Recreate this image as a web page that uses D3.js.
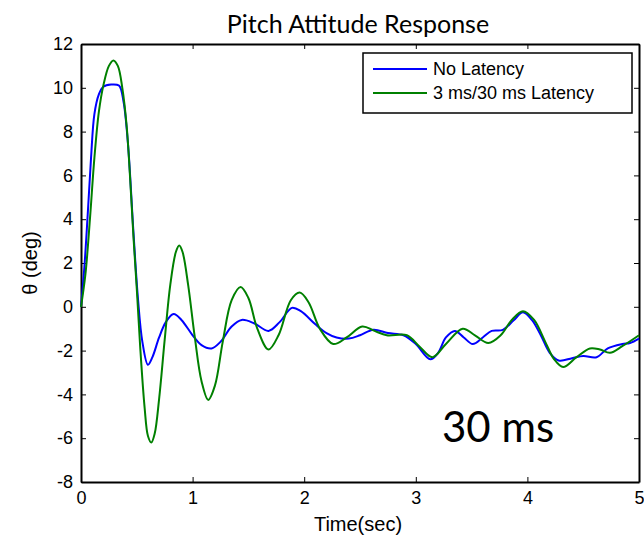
<!DOCTYPE html>
<html lang="en">
	<head>
		<meta charset="utf-8">
		<title>D3: Pitch Attitude Response</title>
		<script type="text/javascript" src="https://cdn.jsdelivr.net/npm/d3@7"></script>
		<style type="text/css">
		body { margin: 0; background: #fff; }
		.axis text { font-family: "Liberation Sans", Arial, sans-serif; font-size: 18px; fill: #000; }
		.axis path, .axis line { stroke: #000; }
		</style>
	</head>
	<body>
		<script type="text/javascript">

		//Width and height
		var w = 644;
		var h = 542;
		var margin = {top: 44, right: 5, bottom: 60, left: 81};

		var xTicks = [0, 1, 2, 3, 4, 5];
		var yTicks = [-8, -6, -4, -2, 0, 2, 4, 6, 8, 10, 12];
		var seriesNames = ["No Latency", "3 ms/30 ms Latency"];
		var seriesColors = ["#0000ff", "#008000"];

		//No Latency  [time, theta]
		var noLatency = [
			[0, 0], [0.03, 1.8], [0.06, 4.2], [0.09, 6.8], [0.12, 8.8], [0.16, 9.7], [0.2, 10.05],
			[0.27, 10.15], [0.34, 10.1], [0.38, 9.4], [0.42, 7.5], [0.47, 3.4], [0.51, 0.4],
			[0.55, -1.6], [0.6, -2.65], [0.64, -2.3], [0.7, -1.4], [0.76, -0.7], [0.83, -0.33],
			[0.9, -0.6], [1.0, -1.3], [1.08, -1.75], [1.17, -1.9], [1.25, -1.6], [1.35, -0.9],
			[1.44, -0.6], [1.55, -0.75], [1.68, -1.1], [1.78, -0.7], [1.89, -0.05], [1.97, -0.2],
			[2.1, -0.8], [2.2, -1.2], [2.29, -1.4], [2.4, -1.45], [2.5, -1.3], [2.62, -1.05],
			[2.75, -1.2], [2.89, -1.3], [3.0, -1.7], [3.13, -2.4], [3.2, -2.1], [3.27, -1.4],
			[3.35, -1.1], [3.43, -1.4], [3.51, -1.7], [3.6, -1.4], [3.68, -1.1], [3.78, -1.05],
			[3.88, -0.6], [3.96, -0.25], [4.04, -0.6], [4.12, -1.3], [4.2, -2.1], [4.28, -2.45],
			[4.4, -2.35], [4.5, -2.25], [4.62, -2.3], [4.72, -1.9], [4.85, -1.7], [4.92, -1.65],
			[5.0, -1.45]
		];

		//3 ms/30 ms Latency  [time, theta]
		var withLatency = [
			[0, 0], [0.04, 1.5], [0.08, 4.0], [0.12, 6.8], [0.16, 8.9], [0.2, 10.1], [0.25, 11.0],
			[0.29, 11.25], [0.33, 11.0], [0.37, 10.0], [0.41, 8.2], [0.45, 5.0], [0.47, 3.2],
			[0.5, 0.8], [0.53, -1.8], [0.57, -4.6], [0.6, -5.9], [0.63, -6.2], [0.66, -5.8],
			[0.7, -4.2], [0.75, -1.5], [0.8, 1.0], [0.85, 2.5], [0.88, 2.8], [0.91, 2.5],
			[0.96, 1.0], [1.02, -1.4], [1.08, -3.4], [1.14, -4.25], [1.2, -3.6], [1.27, -1.6],
			[1.35, 0.3], [1.43, 0.9], [1.5, 0.4], [1.58, -1.0], [1.68, -1.95], [1.77, -1.3],
			[1.88, 0.3], [1.96, 0.65], [2.04, 0.2], [2.14, -1.0], [2.26, -1.7], [2.38, -1.4],
			[2.52, -0.9], [2.63, -1.1], [2.74, -1.3], [2.92, -1.3], [3.03, -1.8], [3.15, -2.3],
			[3.27, -1.7], [3.42, -1.0], [3.53, -1.3], [3.65, -1.65], [3.76, -1.3], [3.86, -0.6],
			[3.96, -0.2], [4.06, -0.6], [4.16, -1.6], [4.24, -2.4], [4.32, -2.75], [4.44, -2.3],
			[4.56, -1.9], [4.65, -1.95], [4.74, -2.1], [4.85, -1.8], [5.0, -1.3]
		];

		var series = [noLatency, withLatency];

		var iw = w - margin.left - margin.right;
		var ih = h - margin.top - margin.bottom;

		var svg = d3.select("body")
					.append("svg")
					.attr("width", w)
					.attr("height", h);

		var g = svg.append("g")
					.attr("transform", "translate(" + margin.left + "," + margin.top + ")");

		var x = d3.scaleLinear().domain([0, 5]).range([0, iw]);
		var y = d3.scaleLinear().domain([-8, 12]).range([ih, 0]);

		//plain hyphen minus like the original
		var fmt = function(d) { return String(d); };

		//axes, ticks pointing inward (box on)
		g.append("g").attr("class", "axis")
			.attr("transform", "translate(0," + ih + ")")
			.call(d3.axisBottom(x).tickValues(xTicks).tickFormat(fmt).tickSizeInner(-5).tickSizeOuter(0).tickPadding(9));
		g.append("g").attr("class", "axis")
			.call(d3.axisLeft(y).tickValues(yTicks).tickFormat(fmt).tickSizeInner(-5).tickSizeOuter(0).tickPadding(8));
		g.append("g").attr("class", "axis")
			.call(d3.axisTop(x).tickValues(xTicks).tickSizeInner(-5).tickSizeOuter(0).tickFormat(""));
		g.append("g").attr("class", "axis")
			.attr("transform", "translate(" + iw + ",0)")
			.call(d3.axisRight(y).tickValues(yTicks).tickSizeInner(-5).tickSizeOuter(0).tickFormat(""));
		g.selectAll(".axis path").style("stroke-width", 2);

		var line = d3.line()
			.x(function(d) { return x(d[0]); })
			.y(function(d) { return y(d[1]); })
			.curve(d3.curveCatmullRom);

		g.selectAll(".series")
			.data(series)
			.enter()
			.append("path")
			.attr("class", "series")
			.attr("d", line)
			.style("fill", "none")
			.style("stroke", function(d, i) { return seriesColors[i]; })
			.style("stroke-width", 2);

		//title and labels
		svg.append("text")
			.attr("x", 358).attr("y", 33)
			.attr("text-anchor", "middle")
			.style("font-family", "Lato, sans-serif")
			.style("font-size", "25px")
			.text("Pitch Attitude Response");

		svg.append("text")
			.attr("x", 358).attr("y", 531)
			.attr("text-anchor", "middle")
			.style("font-family", "Liberation Sans, Arial, sans-serif")
			.style("font-size", "20px")
			.text("Time(sec)");

		svg.append("text")
			.attr("transform", "translate(37,263) rotate(-90)")
			.attr("text-anchor", "middle")
			.style("font-family", "Liberation Sans, Arial, sans-serif")
			.style("font-size", "20px")
			.text("\u03b8 (deg)");

		svg.append("text")
			.attr("x", 442).attr("y", 442)
			.style("font-family", "Lato, sans-serif")
			.style("font-size", "42px")
			.text("30 ms");

		//legend
		var legend = svg.append("g").attr("transform", "translate(363,53)");
		legend.append("rect")
			.attr("width", 269).attr("height", 60)
			.style("fill", "#fff").style("stroke", "#000").style("stroke-width", 1.5);
		var items = legend.selectAll(".item")
			.data(seriesNames)
			.enter()
			.append("g")
			.attr("class", "item")
			.attr("transform", function(d, i) { return "translate(0," + (16 + i * 24) + ")"; });
		items.append("line")
			.attr("x1", 10).attr("x2", 64)
			.style("stroke", function(d, i) { return seriesColors[i]; })
			.style("stroke-width", 2);
		items.append("text")
			.attr("x", 70).attr("y", 6)
			.style("font-family", "Liberation Sans, Arial, sans-serif")
			.style("font-size", "18px")
			.text(function(d) { return d; });

		</script>
	</body>
</html>
